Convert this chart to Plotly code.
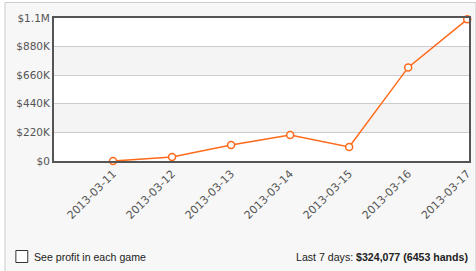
import plotly.graph_objects as go

dates = ["2013-03-11", "2013-03-12", "2013-03-13", "2013-03-14",
         "2013-03-15", "2013-03-16", "2013-03-17"]
profit = [0, 30000, 123000, 200000, 108000, 720000, 1090000]
y_ticks = [0, 220000, 440000, 660000, 880000, 1100000]
y_tick_text = ["$0", "$220K", "$440K", "$660K", "$880K", "$1.1M"]

W, H = 476, 271
L, R, T, B = 54, 473, 18, 161  # plot area in pixels
PW, PH = R - L, B - T


def px(x):
    return (x - L) / PW


def py(y):
    return (B - y) / PH


xi = list(range(len(dates)))

fig = go.Figure()
fig.add_trace(go.Scatter(
    x=xi, y=profit, mode="lines+markers",
    line=dict(color="#ff6a1a", width=1.5),
    marker=dict(symbol="circle", size=7, color="white",
                line=dict(color="#ff6a1a", width=1.5)),
    cliponaxis=False, hoverinfo="skip", showlegend=False,
))

shapes = [
    # outer panel
    dict(type="rect", xref="paper", yref="paper", x0=px(4.5), x1=px(480),
         y0=py(280), y1=py(2.5), fillcolor="#f7f7f7",
         line=dict(color="#cccccc", width=1), layer="below"),
    # white plot area
    dict(type="rect", xref="paper", yref="paper", x0=0, x1=1, y0=0, y1=1,
         fillcolor="white", line=dict(width=0), layer="below"),
    # checkbox
    dict(type="rect", xref="paper", yref="paper", x0=px(15.5), x1=px(27.5),
         y0=py(262.5), y1=py(250.5), fillcolor="white",
         line=dict(color="#333333", width=1), layer="above"),
]
# alternating bands
for i in range(len(y_ticks) - 1):
    if i % 2 == 1:
        shapes.append(dict(type="rect", xref="paper", yref="y", x0=0, x1=1,
                           y0=y_ticks[i], y1=y_ticks[i + 1],
                           fillcolor="#f4f4f4", line=dict(width=0), layer="below"))

annotations = [
    dict(xref="paper", yref="paper", x=px(32), y=py(257), xanchor="left",
         yanchor="middle", showarrow=False, text="See profit in each game",
         font=dict(family="Liberation Sans, Arial", size=10.6, color="#222")),
    dict(xref="paper", yref="paper", x=px(474), y=py(257), xanchor="right",
         yanchor="middle", showarrow=False,
         text="Last 7 days: <b>$324,077 (6453 hands)</b>",
         font=dict(family="Liberation Sans, Arial", size=10.6, color="#222")),
]

fig.update_layout(
    width=W, height=H,
    margin=dict(l=L, r=W - R, t=T, b=H - B, pad=0),
    paper_bgcolor="white", plot_bgcolor="white",
    shapes=shapes, annotations=annotations,
    font=dict(family="DejaVu Sans", size=11, color="#555"),
    xaxis=dict(range=[-1, len(dates) - 1 + 0.03], tickvals=xi, ticktext=dates,
               tickangle=-45, showgrid=False, zeroline=False,
               showline=True, linecolor="#555", linewidth=2, mirror=True,
               ticks="", tickfont=dict(size=11, color="#555")),
    yaxis=dict(range=[0, 1100000], tickvals=y_ticks, ticktext=y_tick_text,
               showgrid=True, gridcolor="#cccccc", gridwidth=1,
               zeroline=False, showline=True, linecolor="#555", linewidth=2,
               mirror=True, ticks="", tickfont=dict(size=10.5, color="#555")),
)

fig.write_html("out.html")
